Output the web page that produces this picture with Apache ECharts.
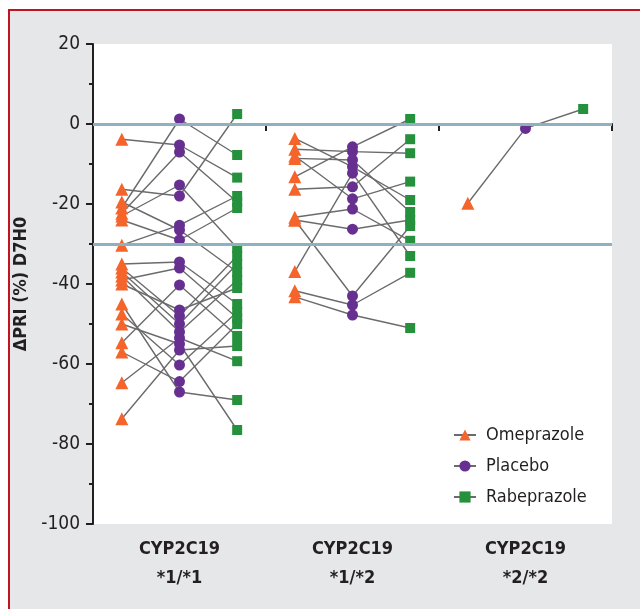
<!DOCTYPE html>
<html><head><meta charset="utf-8">
<script src="https://cdn.jsdelivr.net/npm/echarts@6/dist/echarts.min.js"></script>
<style>
html,body{margin:0;padding:0;background:#fff;width:640px;height:609px;overflow:hidden;}
#frame{position:absolute;left:8px;top:9px;width:640px;height:620px;background:#e6e7e9;border-left:2px solid #c0141f;border-top:2px solid #c0141f;}
#chart{position:absolute;left:0;top:0;width:640px;height:609px;}
</style></head>
<body><div id="frame"></div><div id="chart"></div>
<script>
const categories = ['CYP2C19\n*1/*1', 'CYP2C19\n*1/*2', 'CYP2C19\n*2/*2'];
const seriesNames = ['Omeprazole', 'Placebo', 'Rabeprazole'];
const refLines = [0, -30];
// CYP2C19 *1/*1 (each index = one subject)
const g1Omeprazole  = [-21, -3.8, -22.3, -16.3, -23, -30.3, -24, -19.5, -35, -36, -37, -38, -39, -40, -45, -47.5, -50, -54.7, -57, -64.7, -73.7];
const g1Placebo     = [1.25, -5.25, -7, -18, -15.25, -25.3, -29, -26.5, -34.5, -48, -50, -52, -36, -46.5, -67, -60.25, -55, -40.25, -64.4, -53.5, -56.5];
const g1Rabeprazole = [-7.75, -13.4, -19.5, 2.5, -31, -18, -21, -37, -45, -33, -35, -39, -48.5, -41, -69, -47, -76.5, -53, -50, -59.3, -55.5];
// CYP2C19 *1/*2
const g2Omeprazole  = [-3.6, -6.3, -8.6, -13.2, -16.3, -8, -23.3, -24, -36.9, -24, -41.7, -43.2];
const g2Placebo     = [-10.7, -6.9, -9, -5.7, -15.7, -18.7, -21.25, -26.3, -12.3, -43, -45.25, -47.75];
const g2Rabeprazole = [-19, -7.3, -22, 1.25, -3.8, -14.4, -29.2, -24, -33, -25.5, -37.2, -51];
// CYP2C19 *2/*2
const g3Omeprazole  = [-19.8];
const g3Placebo     = [-1.1];
const g3Rabeprazole = [3.75];

const groups = [
  [g1Omeprazole, g1Placebo, g1Rabeprazole],
  [g2Omeprazole, g2Placebo, g2Rabeprazole],
  [g3Omeprazole, g3Placebo, g3Rabeprazole]
];
const colors = ['#f5642a', '#662f90', '#26913c'];
const symbols = ['triangle', 'circle', 'rect'];
const sizes = [13, 11, 10];
const lineGray = '#6b6b6d';
const FONT = '"Liberation Sans Narrow","DejaVu Sans Condensed",sans-serif';

const series = [];
// legend-only line series (line + marker icons)
for (let k = 0; k < 3; k++) {
  series.push({
    name: seriesNames[k], type: 'line', xAxisIndex: 1, data: [],
    symbol: symbols[k], symbolSize: sizes[k],
    itemStyle: { color: colors[k] }, lineStyle: { color: lineGray, width: 1.3 }
  });
}
// reference lines
series.push({
  type: 'line', xAxisIndex: 1, data: [], z: 1, silent: true,
  markLine: { symbol: 'none', silent: true, label: { show: false },
    lineStyle: { color: '#8fb0bf', width: 3, type: 'solid' },
    data: refLines.map(v => ({ yAxis: v })) }
});
// subject connecting lines
groups.forEach((g, gi) => {
  for (let i = 0; i < g[0].length; i++) {
    series.push({
      type: 'line', xAxisIndex: 1, z: 2, symbol: 'none', silent: true,
      lineStyle: { color: lineGray, width: 1.4 },
      data: [[3 * gi + 0.5, g[0][i]], [3 * gi + 1.5, g[1][i]], [3 * gi + 2.5, g[2][i]]]
    });
  }
});
// markers
for (let k = 0; k < 3; k++) {
  const pts = [];
  groups.forEach((g, gi) => g[k].forEach(v => pts.push([3 * gi + 0.5 + k, v])));
  series.push({
    name: seriesNames[k], type: 'scatter', xAxisIndex: 1, z: 3,
    symbol: symbols[k], symbolSize: sizes[k],
    itemStyle: { color: colors[k], opacity: 1 }, data: pts
  });
}

const chart = echarts.init(document.getElementById('chart'), null, { renderer: 'canvas' });
chart.setOption({
  animation: false,
  backgroundColor: 'transparent',
  grid: { left: 93, right: 28, top: 44, bottom: 85, show: true, backgroundColor: '#ffffff', borderWidth: 0 },
  legend: {
    data: seriesNames, orient: 'vertical', left: 448, top: 421,
    itemWidth: 22, itemHeight: 14, itemGap: 13,
    textStyle: { fontFamily: FONT, fontSize: 18, color: '#231f20', padding: [0, 0, 0, 5] }
  },
  xAxis: [
    { type: 'category', data: categories, boundaryGap: true,
      axisLine: { lineStyle: { color: '#231f20', width: 2 } },
      axisTick: { show: true, length: 7, lineStyle: { color: '#231f20', width: 2 } },
      axisLabel: { margin: 11, fontFamily: FONT, fontWeight: 'bold', fontSize: 18, lineHeight: 29, color: '#231f20' },
      splitLine: { show: false } },
    { type: 'value', min: 0, max: 9, show: false, splitLine: { show: false } }
  ],
  yAxis: {
    type: 'value', min: -100, max: 20, interval: 20,
    name: '\u0394PRI (%) D7H0', nameLocation: 'middle', nameGap: 47, nameRotate: 90,
    nameTextStyle: { fontFamily: FONT, fontWeight: 'bold', fontSize: 18, color: '#231f20' },
    axisLine: { show: true, lineStyle: { color: '#231f20', width: 2 } },
    axisTick: { show: true, length: 7, lineStyle: { color: '#231f20', width: 2 } },
    minorTick: { show: true, splitNumber: 2, length: 4, lineStyle: { color: '#231f20', width: 2 } },
    axisLabel: { margin: 13, fontFamily: FONT, fontSize: 19, color: '#231f20' },
    splitLine: { show: false }
  },
  series: series
});
</script></body></html>
